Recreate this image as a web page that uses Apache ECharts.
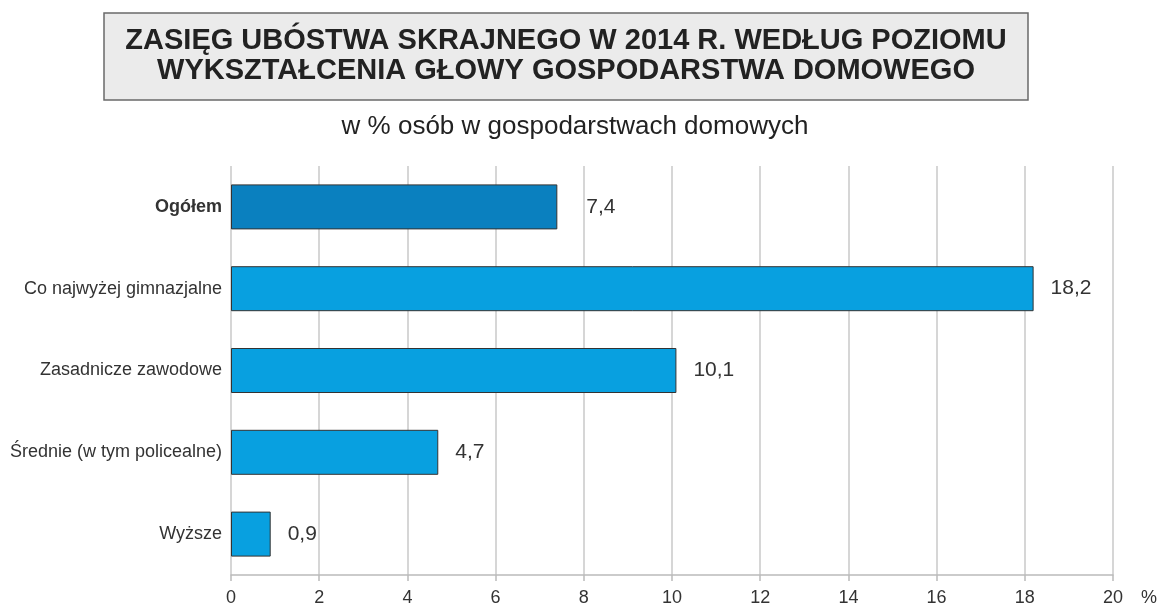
<!DOCTYPE html>
<html>
<head>
<meta charset="utf-8">
<script src="https://cdn.jsdelivr.net/npm/echarts@6/dist/echarts.min.js"></script>
<style>
html,body{margin:0;padding:0;background:#fff;}
#chart{width:1160px;height:608px;}
</style>
</head>
<body>
<div id="chart"></div>
<script>
// Data
const categories = ['Ogółem', 'Co najwyżej gimnazjalne', 'Zasadnicze zawodowe', 'Średnie (w tym policealne)', 'Wyższe'];
const values = [7.4, 18.2, 10.1, 4.7, 0.9];
const highlightIndex = 0;
const titleText = 'ZASIĘG UBÓSTWA SKRAJNEGO W 2014 R. WEDŁUG POZIOMU\nWYKSZTAŁCENIA GŁOWY GOSPODARSTWA DOMOWEGO';
const subtitleText = 'w % osób w gospodarstwach domowych';
const axisUnit = '%';

const chart = echarts.init(document.getElementById('chart'));
const font = '"Liberation Sans", Arial, sans-serif';

const barData = values.map((v, i) => ({
  value: v,
  itemStyle: { color: i === highlightIndex ? '#0a80bf' : '#08a0e0' },
  label: i === highlightIndex ? { distance: 29 } : undefined
}));

chart.setOption({
  backgroundColor: '#fff',
  animation: false,
  title: [{
    text: titleText,
    left: 544,
    top: 13,
    padding: [13, 22, 14, 22],
    backgroundColor: '#ebebeb',
    borderColor: '#6a6a6a',
    borderWidth: 1.5,
    textAlign: 'center',
    textStyle: { fontFamily: font, fontSize: 29, fontWeight: 'bold', color: '#222', lineHeight: 30 }
  }, {
    text: subtitleText,
    left: 570,
    textAlign: 'center',
    top: 109,
    textStyle: { fontFamily: font, fontSize: 26, fontWeight: 'normal', color: '#222' }
  }],
  grid: { left: 231, right: 46, top: 166, bottom: 33, containLabel: false },
  xAxis: {
    type: 'value',
    min: 0, max: 20, interval: 2,
    axisLine: { show: true, lineStyle: { color: '#bbb', width: 1.5 } },
    axisTick: { show: true, length: 6, lineStyle: { color: '#bbb', width: 1.5 } },
    splitLine: { show: true, lineStyle: { color: '#c8c8c8', width: 1.5 } },
    axisLabel: { fontFamily: font, fontSize: 18, color: '#333', margin: 14 },
    name: axisUnit,
    nameLocation: 'end',
    nameGap: 28,
    nameTextStyle: { fontFamily: font, fontSize: 18, color: '#333', verticalAlign: 'top', padding: [14, 0, 0, 0] }
  },
  yAxis: {
    type: 'category',
    data: categories,
    inverse: true,
    axisLine: { show: false },
    axisTick: { show: false },
    splitLine: { show: false },
    axisLabel: {
      fontFamily: font, fontSize: 18, color: '#333', margin: 9,
      formatter: (v) => v === categories[highlightIndex] ? '{b|' + v + '}' : v,
      rich: { b: { fontFamily: font, fontSize: 18, fontWeight: 'bold', color: '#333' } }
    }
  },
  series: [{
    type: 'bar',
    data: barData,
    barWidth: 45,
    itemStyle: { borderColor: '#333', borderWidth: 1 },
    label: {
      show: true,
      position: 'right',
      distance: 17,
      fontFamily: font,
      fontSize: 21,
      color: '#333',
      formatter: (p) => String(p.value).replace('.', ',')
    }
  }]
});
</script>
</body>
</html>
